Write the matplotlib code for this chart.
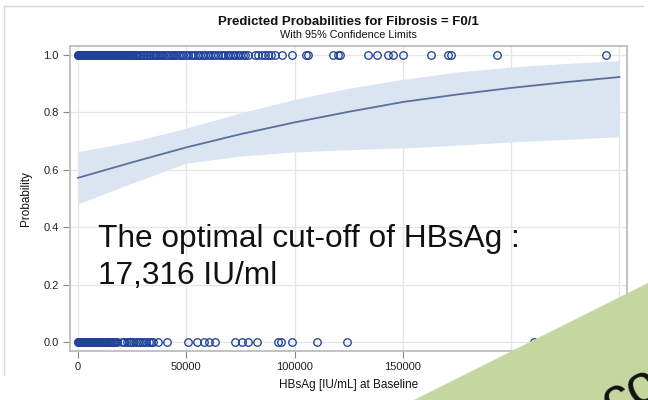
import matplotlib
matplotlib.use("Agg")
import matplotlib.pyplot as plt
from matplotlib.patches import Polygon
from matplotlib.lines import Line2D

plt.rcParams['font.family'] = ['Liberation Sans', 'DejaVu Sans']

# ---- data ----
fit_x = [0, 25000, 50000, 75000, 100000, 125000, 150000, 175000, 200000, 225000, 250000]
fit_p = [0.572, 0.626, 0.678, 0.724, 0.765, 0.802, 0.836, 0.862, 0.885, 0.905, 0.923]
ci_lower = [0.481, 0.554, 0.623, 0.648, 0.662, 0.670, 0.676, 0.686, 0.697, 0.706, 0.715]
ci_upper = [0.663, 0.698, 0.745, 0.798, 0.845, 0.884, 0.915, 0.940, 0.958, 0.970, 0.980]

# observed HBsAg values with outcome F0/1 = 1
obs_yes = [0, 150, 300, 500, 700, 850, 1000, 1200, 1500, 1800, 2000, 2300, 2600, 2900,
           3100, 3400, 3700, 4000, 4300, 4700, 5000, 5300, 5600, 5900, 6200, 6600, 6900,
           7200, 7500, 7900, 8200, 8500, 8800, 9200, 9500, 9900, 10200, 10600, 10900,
           11300, 11600, 12000, 12300, 12700, 13000, 13400, 13800, 14200, 14600, 15000,
           15300, 15700, 16100, 16500, 17000, 17400, 17800, 18300, 18700, 19100, 19500,
           20000, 20400, 20900, 21300, 21800, 22200, 22700, 23200, 23600, 24100, 24600,
           25100, 25600, 26200, 26800, 27400, 27900, 28500, 29100, 29800, 30500, 31200,
           31900, 32600, 33300, 34000, 34800, 35500, 36200, 37000, 37800, 38600, 39400,
           40300, 41100, 42000, 42800, 43700, 44500, 45400, 46300, 47100, 47900, 48600,
           49700, 50800, 52000, 53100, 54200, 55400, 56500, 57700, 58800, 60000, 61100,
           62300, 63400, 64600, 65800, 67000, 68100, 69300, 70400, 71600, 72700, 73900,
           75000, 76200, 77300, 78500, 81700, 83300, 85000, 86300, 87700, 89300, 91000,
           94200, 98800, 105300, 106000, 117700, 120000, 121000, 133900, 138000, 143100,
           145400, 150000, 163000, 170800, 172200, 193400, 243800]
# observed HBsAg values with outcome F0/1 = 0
obs_no = [0, 200, 400, 650, 900, 1150, 1400, 1700, 2000, 2300, 2600, 2900, 3200, 3550,
          3900, 4250, 4600, 4950, 5300, 5650, 6000, 6400, 6800, 7200, 7600, 8000, 8400,
          8800, 9200, 9600, 10000, 10450, 10900, 11350, 11800, 12250, 12700, 13150, 13600,
          14100, 14600, 15100, 15600, 16100, 16600, 17100, 17600, 18100, 20300, 21400,
          22500, 23500, 24500, 25500, 26600, 27600, 28700, 29600, 30500, 31600, 32700,
          33600, 34600, 37000, 41100, 50800, 54900, 58200, 60500, 63300, 72500, 75700,
          78500, 82600, 92300, 93700, 98800, 110300, 124200, 210500]

x_ticks = [0, 50000, 100000, 150000]
y_ticks = [0.0, 0.2, 0.4, 0.6, 0.8, 1.0]

# ---- figure ----
fig = plt.figure(figsize=(6.48, 4.0), dpi=100)
fig.patch.set_facecolor('white')
ax = fig.add_axes([70/648, 1 - 351/400, (627-70)/648, (351-46)/400])

ax.fill_between(fit_x, ci_lower, ci_upper, color='#dbe4f1', linewidth=0, zorder=1)
ax.plot(fit_x, fit_p, color='#5b6f9c', linewidth=1.3, zorder=2)

mk = dict(marker='o', linestyle='none', markersize=5.4, markerfacecolor='none',
          markeredgecolor='#21429b', markeredgewidth=0.95, zorder=3)
ax.plot(obs_yes, [1.0]*len(obs_yes), **mk)
ax.plot(obs_no, [0.0]*len(obs_no), **mk)

ax.set_xlim(-3700, 253500)
ax.set_ylim(-0.031, 1.031)
ax.set_xticks(x_ticks)
ax.set_xticklabels([str(v) for v in x_ticks])
ax.set_yticks(y_ticks)
ax.set_yticklabels([f'{v:.1f}' for v in y_ticks])
# extra gridline positions present in the reference
ax.set_xticks([200000, 250000], minor=True)
ax.grid(True, which='both', color='#e6e6e6', linewidth=0.9, zorder=0)
ax.set_axisbelow(True)
ax.tick_params(which='minor', length=0)
ax.tick_params(axis='both', which='major', direction='out', length=5, width=0.8,
               color='#888888', labelsize=8, labelcolor='#222222', pad=3)
for s in ax.spines.values():
    s.set_color('#bdbdbd')
    s.set_linewidth(1.3)

ax.set_xlabel('HBsAg [IU/mL] at Baseline', fontsize=8.5, color='#111111', labelpad=5)
ax.set_ylabel('Probability', fontsize=8.5, color='#111111', labelpad=8)

cx = (70 + 627) / 2 / 648
fig.text(cx, 1 - 22/400, 'Predicted Probabilities for Fibrosis = F0/1', ha='center', va='center',
         fontsize=9.5, fontweight='bold', color='#111111')
fig.text(cx, 1 - 35/400, 'With 95% Confidence Limits', ha='center', va='center',
         fontsize=7.8, color='#111111')

# big overlay annotation
fig.text(98/648, 1 - 247/400, 'The optimal cut-off of HBsAg :', ha='left', va='baseline',
         fontsize=22.8, color='#111111')
fig.text(98/648, 1 - 284/400, '17,316 IU/ml', ha='left', va='baseline',
         fontsize=22.8, color='#111111')

# light outer border of the graph
fig.add_artist(Line2D([4/648, 4/648], [1 - 375/400, 1 - 6/400], color='#d6d6d6', linewidth=1))
fig.add_artist(Line2D([4/648, 643/648], [1 - 6/400, 1 - 6/400], color='#d6d6d6', linewidth=1))

# green slide decoration in the corner
tri = Polygon([(648/648, 1 - 283/400), (648/648, 0), (414/648, 0)], closed=True,
              transform=fig.transFigure, facecolor='#c5d79f', edgecolor='none', zorder=10)
fig.add_artist(tri)
fig.text(0.915, -0.075, 'co', rotation=27, fontsize=40, color='#111111', ha='left',
         va='bottom', zorder=11)

fig.savefig('out.png', dpi=100)
